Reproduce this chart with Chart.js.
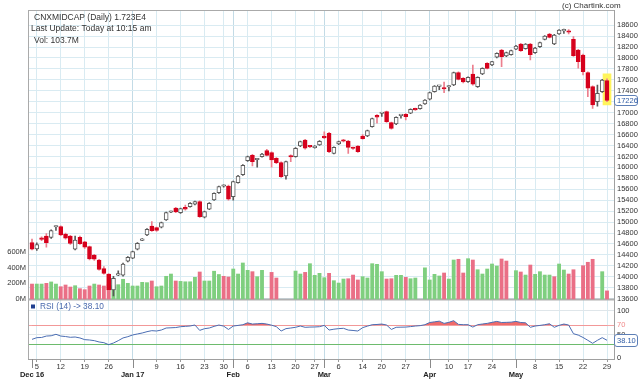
<!DOCTYPE html>
<html><head><meta charset="utf-8">
<script src="https://cdn.jsdelivr.net/npm/chart.js@4.4.1/dist/chart.umd.min.js"></script>
<style>html,body{margin:0;padding:0;background:#fff}#wrap{width:640px;height:379px;position:relative}canvas{display:block}</style>
</head><body><div id="wrap"><canvas id="c" width="640" height="379"></canvas></div>
<script>
// ---- data (trading days 2 Dec 2016 .. 29 May 2017, index 0..120) ----
const opens = [14624,14510,14700,14746,14722,14910,14916,14782,14746,14503,
14722,14637,14551,14399,14307,14148,14051,13759,14030,14028,
14284,14339,14503,14665,14764,14929,14898,14905,15039,15180,
15258,15172,15271,15282,15326,15373,15088,15234,15404,15538,
15655,15660,15465,15720,15867,16123,16221,16140,16196,16305,
16269,16166,16086,15843,16205,16196,16391,16501,16385,16360,
16410,16574,16623,16257,16428,16501,16483,16355,16391,16574,
16574,16744,16953,16985,17018,16817,16793,16945,16971,16990,
17073,17073,17159,17245,17384,17480,17440,17470,17506,17731,
17629,17567,17707,17476,17707,17903,17872,18013,18146,18037,
18061,18159,18256,18171,18256,18097,18207,18341,18439,18256,
18439,18495,18493,18340,18146,18055,17731,17476,17201,17384,17585];
const highs = [14690,14620,14730,14790,14860,14925,14930,14800,14760,14746,
14746,14650,14560,14410,14320,14185,14060,14010,14110,14250,
14370,14470,14625,14700,14880,15008,14910,15000,15185,15200,
15270,15255,15310,15355,15385,15390,15200,15355,15535,15660,
15680,15675,15750,15855,16050,16205,16240,16165,16255,16330,
16285,16180,16100,16115,16230,16360,16480,16515,16400,16400,
16490,16650,16640,16375,16480,16515,16495,16370,16400,16600,
16680,16900,16965,16995,17030,16830,16925,16960,16985,17070,
17085,17150,17240,17375,17495,17495,17560,17490,17740,17745,
17640,17655,17872,17655,17820,17915,17940,18095,18160,18110,
18145,18230,18270,18265,18270,18195,18290,18410,18450,18430,
18520,18530,18520,18390,18160,18070,17745,17490,17503,17610,17620];
const lows = [14490,14480,14660,14540,14700,14850,14750,14690,14594,14490,
14590,14520,14310,14300,14120,14050,13740,13650,14020,14010,
14270,14330,14490,14660,14750,14830,14830,14895,15030,15170,
15170,15160,15220,15275,15315,15085,15075,15225,15395,15525,
15640,15400,15400,15710,15855,16110,16026,16002,16185,16210,
16002,16070,15815,15783,16105,16185,16380,16335,16360,16350,
16400,16525,16270,16245,16415,16465,16257,16330,16275,16515,
16560,16735,16806,16930,16820,16700,16780,16900,16867,16980,
17040,17065,17150,17235,17375,17420,17366,17400,17495,17600,
17545,17555,17505,17460,17695,17800,17860,18000,17841,18025,
18050,18150,18120,18160,17963,18085,18195,18330,18365,18245,
18430,18451,18440,18030,17812,17690,17293,17080,17120,17370,17200];
const closes = [14503,14590,14685,14624,14843,14920,14764,14704,14612,14673,
14605,14540,14326,14320,14137,14064,13759,13973,14040,14234,
14357,14459,14613,14680,14869,14843,14849,14989,15172,15190,
15185,15245,15234,15344,15373,15099,15190,15344,15526,15648,
15665,15417,15739,15843,16039,16196,16104,16155,16245,16221,
16135,16086,15830,16104,16190,16349,16470,16349,16375,16390,
16477,16538,16287,16367,16470,16477,16367,16345,16287,16525,
16671,16890,16916,16990,16836,16714,16916,16953,16927,17062,
17050,17141,17232,17366,17488,17488,17433,17478,17731,17610,
17561,17647,17519,17647,17811,17811,17933,18086,18024,18098,
18134,18219,18134,18256,18061,18183,18280,18402,18378,18420,
18512,18505,18470,18040,17933,17750,17446,17141,17354,17598,17226];
// volume in millions (null = no bar shown)
const volumes = [191,191,191,200,218,191,157,179,153,170,
132,119,166,191,179,166,183,170,183,252,
200,166,166,213,209,230,157,166,290,319,
230,225,220,220,277,345,230,230,355,313,
290,281,383,319,460,366,349,285,366,null,
340,268,null,null,null,357,319,340,451,302,
328,272,328,234,204,255,259,306,243,285,
268,451,443,349,255,259,302,302,277,259,
268,null,398,243,315,294,332,255,498,507,
332,515,498,374,319,383,447,421,511,485,
null,362,345,306,434,315,349,306,306,285,
447,370,319,374,null,425,469,507,null,349,103.7];
// 1 = up (green) volume bar, 0 = down (red)
const volumeUp = [0,1,1,0,1,1,0,0,0,1,
0,0,0,1,0,0,0,1,1,1,
1,1,1,1,1,0,1,1,1,1,
0,1,1,1,1,0,1,1,1,1,
0,0,1,1,1,1,0,1,1,0,
0,0,0,0,0,1,1,0,1,1,
1,1,0,1,1,1,0,0,0,1,
1,1,1,1,0,0,1,1,0,1,
1,0,1,1,1,1,0,1,1,0,
0,1,0,1,1,1,1,1,0,0,
0,1,0,1,0,1,1,1,1,0,
1,1,0,0,0,0,0,0,0,1,0];
const rsi = [40,43.6,44,47,47.6,50.7,47,46,44.4,45,
43,39.4,38.7,37.3,34.5,33,28.8,32.3,37.3,43,
45.7,49.3,51.4,53.5,56.3,58.4,57.7,59.8,64,64.5,
65,66.8,67.5,68.3,70.4,59,62.6,64,67.5,70.3,
68,61,68.2,69.5,71,75,72.4,73,73.8,72.4,
70,66.8,57.7,62.7,64,65.5,68.2,65.5,66,66.2,
66.8,69.6,59.7,61.5,62.7,63.4,59.7,58.8,57.7,64.8,
68,71,71.5,72.4,70.3,61,65.5,65.8,66,67,
68.2,69,71,75.7,77,78.5,73.8,76,79.5,71.7,
71,71,66,71,72.5,73.8,76,78,75.7,76,
76.4,78,75.7,75,65.5,68.2,69.5,71,73,65.5,
69.6,72.4,70.3,52,49,44,38,31.7,38,43.6,38.1];
// tick labels
const dayTickIdx = [1,6,11,16,26,31,36,40,45,50,55,59,64,69,73,78,87,91,96,105,110,115,120];
const dayTickLabels = ['5','12','19','26','9','16','23','30','6','13','20','27','6','14','20','27','10','17','24','8','15','22','29'];
const monthTickIdx = [0,21,42,61,83,101];
const monthTickLabels = ['Dec 16','Jan 17','Feb','Mar','Apr','May'];
const priceTicks = [13600,13800,14000,14200,14400,14600,14800,15000,15200,15400,15600,15800,16000,16200,16400,16600,16800,17000,17200,17400,17600,17800,18000,18200,18400,18600];
const volumeTicks = [0,200,400,600];
const rsiTicks = [0,30,50,70,100];
const rsiUpper = 70, rsiLower = 30;

// ---- chart ----
const FONT = '"Liberation Sans", Arial, Helvetica, sans-serif';
const last = closes.length - 1;
const isUp = i => closes[i] >= opens[i];
const UP_BORDER = '#5a5a5a', DOWN = '#d6001c', DOWN_WICK = '#ec7f8e';
const VOL_UP = '#7fcf7f', VOL_DOWN = '#ea6f86';
const GRID = '#d9ebf2';

function setTicks(list){ return s => { s.ticks = list.map(v => ({value: v})); }; }
function fixW(w){ return s => { s.width = w; s.paddingTop = 0; s.paddingBottom = 0; s.paddingLeft = 0; s.paddingRight = 0; }; }
function fixH(h){ return s => { s.height = h; s.paddingTop = 0; s.paddingBottom = 0; s.paddingLeft = 0; s.paddingRight = 0; }; }

function roundRect(ctx, x, y, w, h, r){
  ctx.beginPath();
  ctx.moveTo(x + r, y); ctx.lineTo(x + w - r, y); ctx.quadraticCurveTo(x + w, y, x + w, y + r);
  ctx.lineTo(x + w, y + h - r); ctx.quadraticCurveTo(x + w, y + h, x + w - r, y + h);
  ctx.lineTo(x + r, y + h); ctx.quadraticCurveTo(x, y + h, x, y + h - r);
  ctx.lineTo(x, y + r); ctx.quadraticCurveTo(x, y, x + r, y); ctx.closePath();
}

const framePlugin = {
  id: 'frame',
  beforeDatasetsDraw(chart){
    const {ctx, chartArea: a, scales} = chart;
    ctx.save();
    ctx.strokeStyle = '#aaaaaa'; ctx.lineWidth = 1;
    ctx.beginPath();
    ctx.moveTo(a.left, a.top + 0.5); ctx.lineTo(a.right, a.top + 0.5);
    ctx.moveTo(a.left + 0.5, a.top); ctx.lineTo(a.left + 0.5, a.bottom);
    ctx.stroke();
    const ySep = Math.round(scales.vol.getPixelForValue(0)) + 0.5;
    ctx.strokeStyle = '#b0b0b0'; ctx.lineWidth = 2;
    ctx.beginPath(); ctx.moveTo(a.left, ySep); ctx.lineTo(a.right, ySep); ctx.stroke();
    ctx.restore();
  },
  afterDraw(chart){
    const {ctx, chartArea: a, scales} = chart;
    ctx.save();
    // long month ticks
    ctx.strokeStyle = '#8a8a8a'; ctx.lineWidth = 1;
    monthTickIdx.forEach(m => {
      const x = Math.round(scales.x.getPixelForValue(m)) + 0.5;
      ctx.beginPath(); ctx.moveTo(x, a.bottom); ctx.lineTo(x, a.bottom + 9); ctx.stroke();
    });
    // header texts
    ctx.fillStyle = '#333'; ctx.textBaseline = 'middle'; ctx.textAlign = 'left';
    ctx.font = '8.5px ' + FONT;
    ctx.fillText('CNXMIDCAP (Daily) 1.723E4', 34, 17.5);
    ctx.fillText('Last Update: Today at 10:15 am', 31, 29);
    ctx.fillText('Vol: 103.7M', 34, 40.5);
    ctx.font = '8px ' + FONT;
    ctx.fillText('(c) Chartink.com', 562, 5.5);
    // RSI legend
    ctx.fillStyle = '#1f3f8f'; ctx.fillRect(31, 304.5, 4, 4);
    ctx.fillStyle = '#4a69ad'; ctx.font = '8.3px ' + FONT;
    ctx.fillText('RSI (14) -> ' + rsi[last].toFixed(2), 40, 306.7);
    // value boxes
    const boxes = [
      {y: scales.price.getPixelForValue(closes[last]), t: String(closes[last]), h: 10},
      {y: scales.rsi.getPixelForValue(rsi[last]), t: rsi[last].toFixed(2), h: 12}
    ];
    ctx.font = '7.5px ' + FONT;
    boxes.forEach(b => {
      roundRect(ctx, a.right + 0.5, Math.round(b.y - b.h / 2) + 0.5, 23, b.h, 2.5);
      ctx.fillStyle = '#fff'; ctx.fill();
      ctx.strokeStyle = '#5d7fb6'; ctx.lineWidth = 1; ctx.stroke();
      ctx.fillStyle = '#2f5ca6'; ctx.fillText(b.t, a.right + 3, b.y + 0.5);
    });
    ctx.restore();
  }
};

const tickFont = {family: FONT, size: 7.5};
const X_MIN = -0.835, X_MAX = 121.46;

new Chart(document.getElementById('c'), {
  type: 'bar',
  data: {
    datasets: [
      { // highlight behind the latest candle
        type: 'bar', order: 7, grouped: false, yAxisID: 'price', xAxisID: 'x',
        data: [{x: last, y: [lows[last] - 60, highs[last] + 90]}],
        backgroundColor: '#fff45c', barThickness: 8, borderWidth: 0
      },
      { // volume
        type: 'bar', order: 6, grouped: false, yAxisID: 'vol', xAxisID: 'x',
        data: volumes.map((v, i) => v == null ? null : {x: i, y: v}).filter(d => d),
        backgroundColor: c => (c.raw && volumeUp[c.raw.x]) ? VOL_UP : VOL_DOWN,
        barThickness: 3.2, borderWidth: 0
      },
      { // wicks
        type: 'bar', order: 5, grouped: false, yAxisID: 'price', xAxisID: 'x',
        data: closes.map((c, i) => ({x: i, y: [lows[i], highs[i]]})),
        backgroundColor: c => isUp(c.raw.x) ? UP_BORDER : DOWN_WICK,
        barThickness: 1, borderWidth: 0
      },
      { // bodies
        type: 'bar', order: 4, grouped: false, yAxisID: 'price', xAxisID: 'x',
        data: closes.map((c, i) => ({x: i, y: [opens[i], closes[i]]})),
        backgroundColor: c => isUp(c.raw.x) ? '#ffffff' : DOWN,
        borderColor: c => isUp(c.raw.x) ? UP_BORDER : DOWN,
        borderWidth: 1, borderSkipped: false, barThickness: 4, minBarLength: 1.5
      },
      { // RSI below 30 fill
        type: 'line', order: 3, yAxisID: 'rsi', xAxisID: 'x',
        data: rsi.map((v, i) => ({x: i, y: v})),
        borderColor: 'rgba(0,0,0,0)', borderWidth: 0, pointRadius: 0, tension: 0,
        fill: {target: {value: rsiLower}, above: 'rgba(0,0,0,0)', below: '#2e8b3e'}
      },
      { // RSI line + above 70 fill
        type: 'line', order: 2, yAxisID: 'rsi', xAxisID: 'x',
        data: rsi.map((v, i) => ({x: i, y: v})),
        borderColor: '#4a6db3', borderWidth: 1, pointRadius: 0, tension: 0,
        fill: {target: {value: rsiUpper}, above: '#ef6a6a', below: 'rgba(0,0,0,0)'}
      }
    ]
  },
  options: {
    responsive: false, animation: false, devicePixelRatio: 1,
    layout: {padding: {top: 10, left: 0, right: 0, bottom: 0}, autoPadding: false},
    plugins: {legend: {display: false}, tooltip: {enabled: false}},
    scales: {
      x: {
        type: 'linear', position: 'bottom', weight: 0, min: X_MIN, max: X_MAX, bounds: 'data', offset: false,
        afterBuildTicks: setTicks(dayTickIdx),
        afterFit: fixH(11),
        ticks: {autoSkip: false, maxRotation: 0, padding: 0, font: tickFont, color: '#333',
          callback: v => { const k = dayTickIdx.indexOf(v); return k < 0 ? '' : dayTickLabels[k]; }},
        grid: {offset: false, color: GRID, tickLength: 3, tickColor: '#999'},
        border: {color: '#a0a0a0'}
      },
      x2: {
        type: 'linear', position: 'bottom', weight: 1, min: X_MIN, max: X_MAX, bounds: 'data', offset: false,
        afterBuildTicks: setTicks(monthTickIdx),
        afterFit: fixH(9),
        ticks: {autoSkip: false, maxRotation: 0, padding: 0, font: {family: FONT, size: 7.5, weight: 'bold'}, color: '#222',
          callback: v => { const k = monthTickIdx.indexOf(v); return k < 0 ? '' : monthTickLabels[k]; }},
        grid: {offset: false, drawTicks: false, color: c => (c.tick && c.tick.value === 0) ? 'rgba(0,0,0,0)' : '#c3dbe6'},
        border: {display: false}
      },
      vol: {
        type: 'linear', position: 'left', min: -766, max: 3690, bounds: 'data',
        afterBuildTicks: setTicks(volumeTicks),
        afterFit: fixW(28),
        ticks: {autoSkip: false, padding: 2, font: tickFont, color: '#333', callback: v => v + 'M'},
        grid: {display: false, drawTicks: false},
        border: {display: false}
      },
      price: {
        type: 'linear', position: 'right', stack: 'right', stackWeight: 289.5, weight: 0,
        min: 13585, max: 18877, bounds: 'data',
        afterBuildTicks: setTicks(priceTicks),
        afterFit: fixW(26),
        ticks: {autoSkip: false, padding: 3, font: tickFont, color: '#333', callback: v => String(v)},
        grid: {drawTicks: false, color: GRID},
        border: {color: '#a0a0a0'}
      },
      rsi: {
        type: 'linear', position: 'right', stack: 'right', stackWeight: 59.5, weight: 1,
        min: -1.5, max: 124.3, bounds: 'data',
        afterBuildTicks: setTicks(rsiTicks),
        afterFit: fixW(26),
        ticks: {autoSkip: false, padding: 3, font: tickFont,
          color: c => c.tick && c.tick.value === rsiUpper ? '#f08a8a' : '#333',
          callback: v => v === rsiLower ? '' : String(v)},
        grid: {drawTicks: false,
          color: c => { const v = c.tick && c.tick.value;
            return v === rsiUpper ? '#f3a3a3' : v === rsiLower ? '#6dbb6d' : v === 0 ? 'rgba(0,0,0,0)' : '#dfe6ea'; }},
        border: {color: '#a0a0a0'}
      }
    }
  },
  plugins: [framePlugin]
});
</script>
</body></html>
